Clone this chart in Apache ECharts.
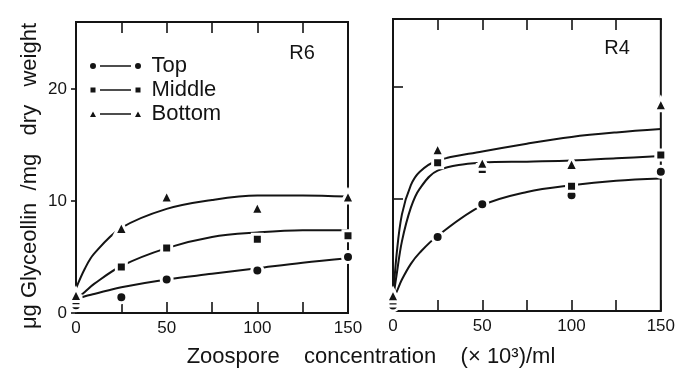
<!DOCTYPE html>
<html>
<head>
<meta charset="utf-8">
<script src="https://cdn.jsdelivr.net/npm/echarts@6/dist/echarts.min.js"></script>
<style>
  html, body { margin: 0; padding: 0; background: #fff; }
  #chart { width: 678px; height: 369px; }
</style>
</head>
<body>
<div id="chart"></div>
<script>
// zoospore concentration (x 10^3 / ml)
var concentrations = [0, 25, 50, 100, 150];

// measured glyceollin (ug / mg dry weight), cultivar R6
var r6Top = [0.7, 1.4, 3.0, 3.8, 5.0];
var r6Middle = [1.1, 4.1, 5.8, 6.6, 6.9];
var r6Bottom = [1.6, 7.6, 10.4, 9.4, 10.4];

// cultivar R4
var r4Top = [0.5, 6.6, 9.5, 10.3, 12.4];
var r4Middle = [0.9, 13.2, 12.6, 11.1, 13.9];
var r4Bottom = [1.4, 14.4, 13.2, 13.1, 18.4];

// hand drawn curves
var r6CurveX = [0, 5, 10, 25, 50, 75, 100, 125, 150];
var r6TopCurve = [1.2, 1.5, 1.7, 2.3, 3.0, 3.5, 4.0, 4.5, 4.9];
var r6MiddleCurve = [1.2, 1.9, 2.6, 4.2, 5.8, 6.8, 7.2, 7.4, 7.4];
var r6BottomCurve = [2.2, 4.0, 5.3, 7.6, 9.3, 10.1, 10.5, 10.5, 10.4];

var r4CurveX = [0, 2, 5, 10, 15, 25, 50, 75, 100, 125, 150];
var r4TopCurve = [1.0, 1.7, 2.8, 4.2, 5.2, 6.7, 9.4, 10.6, 11.2, 11.6, 11.8];
var r4MiddleCurve = [1.0, 3.2, 6.2, 9.2, 10.9, 12.5, 13.2, 13.3, 13.4, 13.6, 13.8];
var r4BottomCurve = [1.0, 5.0, 8.6, 11.2, 12.4, 13.4, 14.2, 14.9, 15.5, 15.9, 16.2];

// labelled ticks
var xTickLabels = [0, 50, 100, 150];
var yTickLabels = [0, 10, 20];

var INK = '#141414';
var FONT = '"Liberation Sans", Arial, sans-serif';

function zip(xs, ys) {
    var out = [];
    for (var i = 0; i < xs.length; i++) {
        out.push([xs[i], ys[i]]);
    }
    return out;
}

// points: white ring around the mark cuts the curve like in the print
function pointSeries(name, values, symbol, size, xi, yi) {
    return {
        name: name,
        type: 'scatter',
        xAxisIndex: xi,
        yAxisIndex: yi,
        data: zip(concentrations, values),
        symbol: symbol,
        symbolSize: size,
        clip: false,
        z: 3,
        itemStyle: { color: INK, borderColor: '#fff', borderWidth: 3, opacity: 1 }
    };
}

function curveSeries(xs, ys, xi, yi) {
    return {
        type: 'line',
        xAxisIndex: xi,
        yAxisIndex: yi,
        data: zip(xs, ys),
        smooth: 0.35,
        showSymbol: false,
        silent: true,
        z: 2,
        lineStyle: { color: INK, width: 2 }
    };
}

function xAxisFor(gridIndex, position) {
    return {
        type: 'value',
        gridIndex: gridIndex,
        position: position,
        min: 0,
        max: 150,
        interval: 25,
        axisLine: { show: false },
        axisTick: { show: true, inside: true, length: 11, lineStyle: { color: INK, width: 1.6 } },
        splitLine: { show: false },
        axisLabel: {
            show: position === 'bottom',
            margin: 7,
            color: INK,
            fontFamily: FONT,
            fontSize: 17,
            formatter: function (v) { return xTickLabels.indexOf(v) >= 0 ? String(v) : ''; }
        }
    };
}

function yAxisFor(gridIndex, withLabels) {
    return {
        type: 'value',
        gridIndex: gridIndex,
        min: 0,
        max: 26,
        interval: 10,
        axisLine: { show: false },
        axisTick: { show: true, inside: !withLabels, length: withLabels ? 5 : 10, lineStyle: { color: INK, width: 1.6 } },
        splitLine: { show: false },
        axisLabel: {
            show: withLabels,
            margin: 9,
            color: INK,
            fontFamily: FONT,
            fontSize: 17,
            showMaxLabel: false,
            formatter: function (v) { return yTickLabels.indexOf(v) >= 0 ? String(v) : ''; }
        }
    };
}

// legend keys: mark - line - mark
var bar = 'M10,2.3 L41,2.3 L41,3.7 L10,3.7 Z ';
var iconCircle = 'path://M0,3 A3,3 0 1,1 6,3 A3,3 0 1,1 0,3 Z ' + bar + 'M45,3 A3,3 0 1,1 51,3 A3,3 0 1,1 45,3 Z';
var iconSquare = 'path://M0.5,0.5 L5.5,0.5 L5.5,5.5 L0.5,5.5 Z ' + bar + 'M45.5,0.5 L50.5,0.5 L50.5,5.5 L45.5,5.5 Z M0,0 L0.01,0 L0.01,6 L0,6 Z M50.99,0 L51,0 L51,6 L50.99,6 Z';
var iconTriangle = 'path://M0,6 L3,0.5 L6,6 Z ' + bar + 'M45,6 L48,0.5 L51,6 Z M0,0 L0.01,0 L0.01,0.01 L0,0.01 Z';

var chart = echarts.init(document.getElementById('chart'), null, { renderer: 'canvas' });

var option = {
    animation: false,
    backgroundColor: '#fff',
    grid: [
        { left: 76, right: 330, top: 22, bottom: 56, show: true, borderColor: INK, borderWidth: 2, backgroundColor: 'transparent' },
        { left: 393, right: 16, top: 19, bottom: 58, show: true, borderColor: INK, borderWidth: 2, backgroundColor: 'transparent' }
    ],
    xAxis: [
        xAxisFor(0, 'bottom'),
        xAxisFor(0, 'top'),
        xAxisFor(1, 'bottom'),
        xAxisFor(1, 'top')
    ],
    yAxis: [
        yAxisFor(0, true),
        yAxisFor(1, false)
    ],
    legend: {
        orient: 'vertical',
        left: 90,
        top: 55,
        padding: 0,
        itemGap: 2,
        itemWidth: 62,
        itemHeight: 6,
        symbolKeepAspect: true,
        selectedMode: false,
        itemStyle: { borderWidth: 0 },
        textStyle: { color: INK, fontFamily: FONT, fontSize: 22 },
        data: [
            { name: 'Top', icon: iconCircle },
            { name: 'Middle', icon: iconSquare },
            { name: 'Bottom', icon: iconTriangle }
        ]
    },
    graphic: [
        {
            type: 'text', x: 302, y: 53,
            style: { text: 'R6', font: '20px ' + FONT, fill: INK, align: 'center', verticalAlign: 'middle', textAlign: 'center', textVerticalAlign: 'middle' }
        },
        {
            type: 'text', x: 617, y: 48,
            style: { text: 'R4', font: '20px ' + FONT, fill: INK, align: 'center', verticalAlign: 'middle', textAlign: 'center', textVerticalAlign: 'middle' }
        },
        {
            type: 'text', x: 30, y: 176, rotation: Math.PI / 2,
            style: { text: 'μg Glyceollin  /mg   dry   weight', font: '22px ' + FONT, fill: INK, align: 'center', verticalAlign: 'middle', textAlign: 'center', textVerticalAlign: 'middle' }
        },
        {
            type: 'text', x: 371, y: 357,
            style: { text: 'Zoospore    concentration    (× 10³)/ml', font: '22px ' + FONT, fill: INK, align: 'center', verticalAlign: 'middle', textAlign: 'center', textVerticalAlign: 'middle' }
        }
    ],
    series: [
        curveSeries(r6CurveX, r6TopCurve, 0, 0),
        curveSeries(r6CurveX, r6MiddleCurve, 0, 0),
        curveSeries(r6CurveX, r6BottomCurve, 0, 0),
        curveSeries(r4CurveX, r4TopCurve, 2, 1),
        curveSeries(r4CurveX, r4MiddleCurve, 2, 1),
        curveSeries(r4CurveX, r4BottomCurve, 2, 1),
        pointSeries('Top', r6Top, 'circle', 11, 0, 0),
        pointSeries('Middle', r6Middle, 'rect', 10, 0, 0),
        pointSeries('Bottom', r6Bottom, 'triangle', 13, 0, 0),
        pointSeries('Top', r4Top, 'circle', 11, 2, 1),
        pointSeries('Middle', r4Middle, 'rect', 10, 2, 1),
        pointSeries('Bottom', r4Bottom, 'triangle', 13, 2, 1)
    ]
};

chart.setOption(option);
</script>
</body>
</html>
